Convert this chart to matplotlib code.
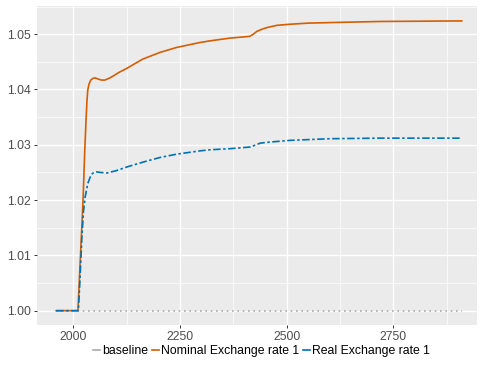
import matplotlib
matplotlib.use("Agg")
import matplotlib.pyplot as plt
from matplotlib.ticker import MultipleLocator, FormatStrFormatter
from matplotlib.lines import Line2D

plt.rcParams['font.family'] = ['Liberation Sans', 'DejaVu Sans']

# simulated exchange rate paths (relative to baseline = 1)
base_t = [1960, 2910]
base_v = [1.0, 1.0]

nom_t = [1960, 2011, 2016, 2020, 2023, 2027, 2030, 2032, 2034, 2037, 2041,
         2046, 2051, 2058, 2066, 2074, 2080, 2086, 2095, 2105, 2125, 2145,
         2163, 2183, 2203, 2242, 2297, 2321, 2368, 2413, 2420, 2430, 2442,
         2454, 2477, 2508, 2550, 2602, 2720, 2910]
nom_v = [1.0, 1.0, 1.0085, 1.015, 1.0201, 1.029, 1.0345, 1.0378, 1.0399,
         1.0410, 1.0417, 1.0420, 1.0421, 1.0419, 1.0417, 1.0417, 1.0419,
         1.0421, 1.0425, 1.0430, 1.0438, 1.0447, 1.0455, 1.0461, 1.0467,
         1.0476, 1.0485, 1.0488, 1.0493, 1.0496, 1.0499, 1.0505, 1.0509,
         1.0512, 1.0516, 1.0518, 1.0520, 1.0521, 1.0523, 1.0524]

real_t = [1960, 2012, 2016, 2020, 2024, 2028, 2034, 2040, 2044, 2048, 2055,
          2063, 2079, 2100, 2126, 2165, 2203, 2242, 2297, 2321, 2368, 2415,
          2425, 2438, 2462, 2508, 2602, 2720, 2910]
real_v = [1.0, 1.0, 1.006, 1.013, 1.018, 1.0206, 1.023, 1.0242, 1.0247,
          1.0250, 1.0251, 1.0250, 1.0249, 1.0253, 1.0260, 1.0269, 1.0277,
          1.0283, 1.0289, 1.0291, 1.0293, 1.0296, 1.0299, 1.0303, 1.0305,
          1.0308, 1.0311, 1.0312, 1.0312]

labels = ['baseline', 'Nominal Exchange rate 1', 'Real Exchange rate 1']
colors = ['#AAAAAA', '#D55E00', '#0072B2']

fig = plt.figure(figsize=(4.8, 3.65), dpi=100)
ax = fig.add_axes([0.077, 0.1096, 0.917, 0.874])
ax.set_facecolor('#EBEBEB')
for s in ax.spines.values():
    s.set_visible(False)

ax.plot(base_t, base_v, color=colors[0], lw=1.2, linestyle=(0, (1, 2.2)))
ax.plot(nom_t, nom_v, color=colors[1], lw=1.2)
ax.plot(real_t, real_v, color=colors[2], lw=1.2,
        linestyle=(0, (4.5, 1.5, 1.5, 1.5)))

ax.set_xlim(1915, 2946)
ax.set_ylim(0.99741, 1.0551)
ax.xaxis.set_major_locator(MultipleLocator(250))
ax.xaxis.set_minor_locator(MultipleLocator(125))
ax.yaxis.set_major_locator(MultipleLocator(0.01))
ax.yaxis.set_minor_locator(MultipleLocator(0.005))
ax.yaxis.set_major_formatter(FormatStrFormatter('%.2f'))

ax.grid(which='major', color='white', lw=1.0)
ax.grid(which='minor', color='white', lw=0.5)
ax.set_axisbelow(True)
ax.tick_params(which='major', length=2.5, width=0.7, color='#333333',
               labelcolor='#4D4D4D', labelsize=8.8, pad=2)
ax.tick_params(which='minor', length=0)

# legend keys are drawn as short solid segments
handles = [Line2D([], [], color=c, lw=1.2) for c in colors]
fig.legend(handles, labels, loc='center', bbox_to_anchor=(0.545, 0.037),
           ncol=3, frameon=False, fontsize=8.8, handlelength=0.55,
           handletextpad=0.15, columnspacing=0.35, borderaxespad=0)

fig.savefig('out.png', dpi=100)
